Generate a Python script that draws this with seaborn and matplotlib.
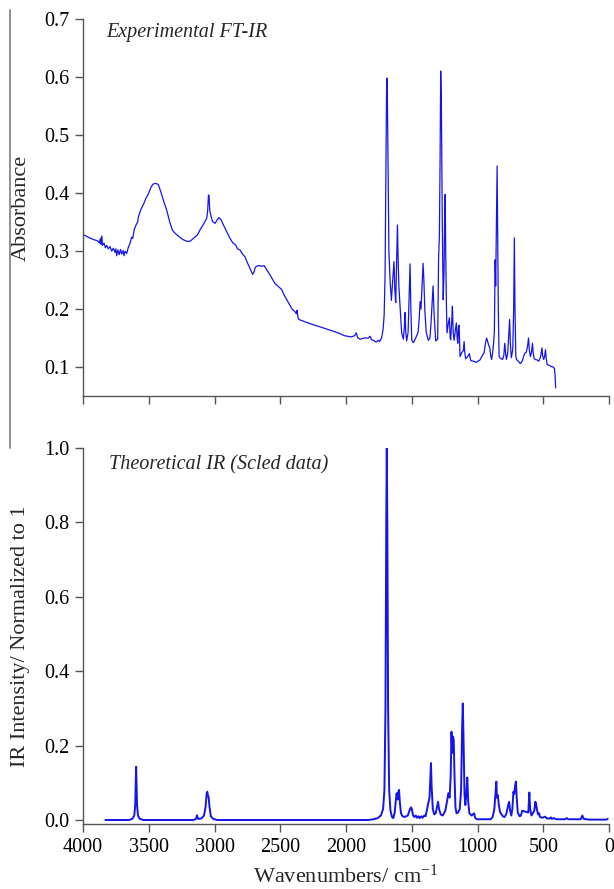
import matplotlib
matplotlib.use("Agg")
import matplotlib.pyplot as plt
from matplotlib.lines import Line2D
import seaborn as sns

# experimental FT-IR spectrum
exp_wn = [4000, 3960, 3920, 3890, 3875, 3868, 3862, 3858, 3852, 3840, 3830, 3820, 3808, 3795,
          3782, 3770, 3757, 3750, 3744, 3735, 3725, 3715, 3706, 3695, 3688, 3680, 3668, 3655,
          3645, 3630, 3622, 3610, 3595, 3585, 3579, 3560, 3540, 3520, 3503, 3480, 3465, 3445,
          3427, 3405, 3385, 3364, 3340, 3320, 3300, 3270, 3240, 3210, 3186, 3160, 3130, 3110,
          3085, 3059, 3052, 3046, 3042, 3036, 3026, 3015, 2996, 2980, 2966, 2950, 2932, 2910,
          2882, 2860, 2840, 2825, 2806, 2790, 2768, 2750, 2730, 2710, 2700, 2690, 2680, 2660,
          2640, 2623, 2600, 2578, 2560, 2540, 2515, 2490, 2470, 2450, 2430, 2410, 2390, 2378,
          2372, 2366, 2358, 2300, 2250, 2180, 2100, 2050, 2012, 1960, 1935, 1922, 1912, 1893,
          1860, 1830, 1818, 1805, 1790, 1773, 1755, 1745, 1730, 1718, 1710, 1703, 1697, 1692,
          1689, 1686, 1681, 1674, 1665, 1655, 1645, 1635, 1629, 1622, 1615, 1609, 1604, 1598,
          1588, 1577, 1564, 1556, 1551, 1546, 1539, 1528, 1518, 1513, 1507, 1500, 1487, 1470,
          1452, 1443, 1437, 1430, 1422, 1414, 1408, 1401, 1390, 1374, 1362, 1354, 1345, 1338,
          1330, 1318, 1303, 1296, 1290, 1285, 1280, 1275, 1268, 1261, 1255, 1249, 1246, 1242,
          1236, 1232, 1222, 1214, 1208, 1204, 1196, 1191, 1185, 1178, 1168, 1161, 1155, 1150,
          1145, 1140, 1133, 1120, 1108, 1102, 1097, 1090, 1075, 1062, 1052, 1030, 1011, 997,
          982, 967, 950, 940, 931, 925, 916, 908, 900, 893, 885, 878, 872, 866, 862, 856, 851,
          847, 842, 836, 825, 809, 800, 793, 787, 780, 770, 756, 750, 743, 732, 725, 720, 715,
          709, 704, 690, 675, 660, 650, 640, 630, 620, 612, 606, 598, 590, 582, 577, 570, 561,
          545, 534, 520, 510, 505, 497, 490, 483, 478, 470, 455, 440, 425, 415, 410, 406]
exp_abs = [0.329, 0.324, 0.320, 0.318, 0.314, 0.322, 0.312, 0.326, 0.310, 0.314, 0.306, 0.310,
           0.304, 0.308, 0.300, 0.305, 0.298, 0.304, 0.292, 0.302, 0.294, 0.303, 0.295, 0.301,
           0.292, 0.300, 0.296, 0.307, 0.312, 0.324, 0.322, 0.338, 0.346, 0.350, 0.359, 0.372,
           0.381, 0.392, 0.399, 0.412, 0.416, 0.417, 0.415, 0.400, 0.385, 0.371, 0.350, 0.336,
           0.331, 0.325, 0.320, 0.317, 0.317, 0.322, 0.328, 0.337, 0.346, 0.357, 0.370, 0.397,
           0.396, 0.370, 0.360, 0.351, 0.348, 0.354, 0.358, 0.354, 0.345, 0.335, 0.322, 0.314,
           0.311, 0.304, 0.302, 0.296, 0.290, 0.280, 0.270, 0.260, 0.264, 0.272, 0.274, 0.275,
           0.274, 0.275, 0.267, 0.259, 0.252, 0.244, 0.239, 0.234, 0.224, 0.216, 0.208, 0.200,
           0.196, 0.192, 0.198, 0.186, 0.182, 0.177, 0.173, 0.168, 0.162, 0.158, 0.154, 0.152,
           0.154, 0.159, 0.151, 0.148, 0.150, 0.150, 0.153, 0.147, 0.146, 0.143, 0.146, 0.144,
           0.150, 0.165, 0.190, 0.260, 0.420, 0.570, 0.599, 0.580, 0.460, 0.300, 0.250, 0.215,
           0.250, 0.282, 0.235, 0.211, 0.280, 0.345, 0.290, 0.239, 0.200, 0.159, 0.148, 0.170,
           0.194, 0.160, 0.145, 0.160, 0.240, 0.278, 0.200, 0.146, 0.142, 0.150, 0.160, 0.185,
           0.213, 0.200, 0.240, 0.279, 0.250, 0.199, 0.160, 0.146, 0.150, 0.174, 0.210, 0.240,
           0.190, 0.145, 0.148, 0.290, 0.326, 0.450, 0.611, 0.560, 0.350, 0.216, 0.260, 0.380,
           0.398, 0.300, 0.200, 0.159, 0.175, 0.185, 0.150, 0.147, 0.180, 0.205, 0.160, 0.146,
           0.165, 0.176, 0.150, 0.141, 0.170, 0.172, 0.118, 0.125, 0.128, 0.144, 0.125, 0.114,
           0.118, 0.123, 0.111, 0.110, 0.108, 0.110, 0.112, 0.118, 0.125, 0.140, 0.150, 0.146,
           0.138, 0.134, 0.120, 0.113, 0.125, 0.141, 0.160, 0.285, 0.240, 0.350, 0.447, 0.340,
           0.200, 0.118, 0.115, 0.113, 0.120, 0.141, 0.125, 0.113, 0.125, 0.182, 0.140, 0.116,
           0.130, 0.200, 0.323, 0.200, 0.120, 0.113, 0.110, 0.106, 0.110, 0.118, 0.124, 0.125,
           0.135, 0.150, 0.130, 0.118, 0.125, 0.141, 0.125, 0.115, 0.113, 0.112, 0.110, 0.118,
           0.133, 0.120, 0.113, 0.118, 0.130, 0.115, 0.104, 0.103, 0.101, 0.100, 0.097, 0.085,
           0.064]

# theoretical (scaled) IR spectrum, normalized to 1
theo_wn = [3830, 3650, 3625, 3610, 3603, 3599, 3596, 3593, 3589, 3582, 3568, 3540,
           3160, 3140, 3133, 3126, 3100, 3080, 3068, 3060, 3055, 3050, 3045, 3038, 3028, 3010, 2980,
           1830, 1790, 1760, 1735, 1718, 1708, 1700, 1694, 1690, 1686, 1680, 1672, 1662, 1650,
           1640, 1630, 1622, 1615, 1608, 1602, 1597, 1590, 1582, 1570, 1555, 1530, 1515, 1507,
           1500, 1490, 1480, 1470, 1460, 1450, 1440, 1428, 1418, 1405, 1395, 1383, 1375, 1365,
           1358, 1354, 1349, 1340, 1330, 1318, 1308, 1300, 1293, 1280, 1265, 1245, 1232, 1222,
           1212, 1204, 1198, 1193, 1186, 1181, 1175, 1168, 1160, 1148, 1135, 1125, 1117, 1112,
           1107, 1099, 1093, 1085, 1078, 1071, 1062, 1045, 1035, 1026, 1018, 1005, 900, 885, 872,
           862, 857, 852, 846, 838, 828, 818, 808, 795, 782, 770, 760, 752, 743, 735, 727, 721,
           713, 708, 702, 694, 680, 670, 660, 614, 606, 600, 590, 568, 561, 555, 549, 540, 531,
           525, 505, 487, 470, 450, 442, 435, 420, 400, 335, 322, 310, 215, 203, 192, 150, 20, 10]
theo_int = [0.000, 0.000, 0.003, 0.012, 0.040, 0.100, 0.143, 0.100, 0.040, 0.012, 0.003, 0.000,
            0.000, 0.003, 0.013, 0.003, 0.004, 0.012, 0.035, 0.070, 0.076, 0.066, 0.062, 0.035,
            0.010, 0.003, 0.000,
            0.000, 0.002, 0.005, 0.012, 0.030, 0.080, 0.300, 0.800, 1.000, 0.800, 0.300, 0.080,
            0.025, 0.008, 0.005, 0.020, 0.050, 0.072, 0.055, 0.075, 0.081, 0.045, 0.018, 0.010,
            0.008, 0.012, 0.028, 0.034, 0.030, 0.012, 0.008, 0.012, 0.006, 0.010, 0.005, 0.010,
            0.006, 0.012, 0.010, 0.030, 0.045, 0.060, 0.120, 0.153, 0.090, 0.030, 0.015, 0.018,
            0.035, 0.049, 0.030, 0.015, 0.012, 0.025, 0.050, 0.072, 0.060, 0.120, 0.237, 0.180,
            0.224, 0.215, 0.120, 0.035, 0.018, 0.020, 0.030, 0.080, 0.250, 0.313, 0.230, 0.070,
            0.040, 0.070, 0.114, 0.050, 0.018, 0.012, 0.015, 0.018, 0.006, 0.002, 0.002, 0.008,
            0.030, 0.080, 0.103, 0.060, 0.067, 0.040, 0.020, 0.016, 0.010, 0.008, 0.015, 0.035,
            0.049, 0.025, 0.012, 0.030, 0.076, 0.070, 0.095, 0.103, 0.060, 0.020, 0.010, 0.012,
            0.025, 0.020, 0.074, 0.030, 0.012, 0.025, 0.049, 0.045, 0.030, 0.015, 0.018, 0.008,
            0.006, 0.009, 0.004, 0.004, 0.007, 0.003, 0.005, 0.002, 0.002, 0.005, 0.002, 0.002,
            0.012, 0.003, 0.001, 0.001, 0.003]

x_ticks = [4000, 3500, 3000, 2500, 2000, 1500, 1000, 500, 0]
top_yticks = [0.1, 0.2, 0.3, 0.4, 0.5, 0.6, 0.7]
bottom_yticks = [0.0, 0.2, 0.4, 0.6, 0.8, 1.0]

sns.set_style("ticks")
plt.rcParams["font.family"] = ["Liberation Serif", "DejaVu Serif"]
plt.rcParams["mathtext.fontset"] = "custom"
plt.rcParams["mathtext.rm"] = "Liberation Serif"
plt.rcParams["mathtext.it"] = "Liberation Serif:italic"

blue = "#1414f0"
spine_col = "#555555"

fig = plt.figure(figsize=(6.14, 8.89), dpi=100)
ax1 = fig.add_axes([0.1352, 0.5546, 0.8567, 0.4235])
ax2 = fig.add_axes([0.1352, 0.0726, 0.8567, 0.4238])

sns.lineplot(x=exp_wn, y=exp_abs, ax=ax1, color=blue, lw=0.9, estimator=None, sort=False)
sns.lineplot(x=theo_wn, y=theo_int, ax=ax2, color=blue, lw=1.4, estimator=None, sort=False)

for ax in (ax1, ax2):
    sns.despine(ax=ax)
    ax.set_xlim(4000, 0)
    ax.set_xticks(x_ticks)
    ax.tick_params(direction="out", length=6, width=1, pad=4, colors=spine_col,
                   labelcolor="black", labelsize=14.5)
    for s in ("left", "bottom"):
        ax.spines[s].set_color(spine_col)
        ax.spines[s].set_linewidth(1)

ax1.set_ylim(0.05, 0.7)
ax1.set_yticks(top_yticks)
ax1.set_yticklabels([f"{v:.1f}" for v in top_yticks])
ax1.set_xticklabels([])
ax1.set_ylabel("Absorbance", fontsize=16)
ax1.yaxis.set_label_coords(-0.1, 0.5)
ax1.text(0.045, 0.966, "Experimental FT-IR", transform=ax1.transAxes,
         fontsize=14.5, style="italic", va="center", ha="left")

ax2.set_ylim(-0.012, 1.0)
ax2.set_yticks(bottom_yticks)
ax2.set_yticklabels([f"{v:.1f}" for v in bottom_yticks])
ax2.set_xticklabels([str(v) for v in x_ticks])
ax2.set_ylabel("IR Intensity/ Normalized to 1", fontsize=16)
ax2.yaxis.set_label_coords(-0.1, 0.5)
ax2.set_xlabel("Wavenumbers/ cm$^{-1}$", fontsize=16, labelpad=5)
ax2.text(0.049, 0.954, "Theoretical IR (Scled data)", transform=ax2.transAxes,
         fontsize=14.5, style="italic", va="center", ha="left")

# thin grey rule at the far left of the upper part
fig.add_artist(Line2D([10 / 614, 10 / 614], [1 - 10 / 889, 1 - 448 / 889],
                      color="#888888", lw=1.3, transform=fig.transFigure))

fig.savefig("out.png", dpi=100)
